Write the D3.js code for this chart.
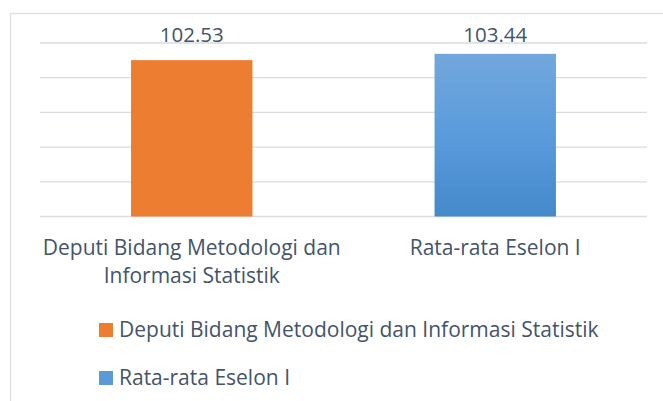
<!DOCTYPE html>
<html>
<head>
<meta charset="utf-8">
<script src="https://cdn.jsdelivr.net/npm/d3@7"></script>
<style>
  body { margin: 0; background: white; }
  text { font-family: "Open Sans", "Noto Sans", sans-serif; }
</style>
</head>
<body>
<div id="chart"></div>
<script>
const categories = ["Deputi Bidang Metodologi dan Informasi Statistik", "Rata-rata Eselon I"];
const categoryLines = [["Deputi Bidang Metodologi dan", "Informasi Statistik"], ["Rata-rata Eselon I"]];
const values = [102.53, 103.44];
const yTicks = [80, 85, 90, 95, 100, 105];

const wSvg = 663;
const hSvg = 401;
const plotLeft = 40, plotRight = 647, plotTop = 43, plotBottom = 216.5;
const textColor = "#44546A";

let svg = d3.select("#chart")
    .append("svg")
    .attr("width", wSvg)
    .attr("height", hSvg);

let defs = svg.append("defs");
let grad = defs.append("linearGradient")
    .attr("id", "blueGrad")
    .attr("x1", 0).attr("y1", 0).attr("x2", 0).attr("y2", 1);
grad.append("stop").attr("offset", "0%").attr("stop-color", "#72A7DC");
grad.append("stop").attr("offset", "50%").attr("stop-color", "#5A9BDC");
grad.append("stop").attr("offset", "100%").attr("stop-color", "#4489CA");

let colors = ["#ED7D31", "url(#blueGrad)"];
let legendColors = ["#ED7D31", "#5B9BD5"];

// chart frame
svg.append("path")
    .attr("d", `M10.5,${hSvg} V13.5 H${wSvg}`)
    .attr("fill", "none")
    .attr("stroke", "#DDE1E6")
    .attr("stroke-width", 1.3);

let y = d3.scaleLinear([80, 105], [plotBottom, plotTop]);
let x = d3.scaleBand(categories, [plotLeft, plotRight]).paddingInner(0.6).paddingOuter(0.3);

// gridlines
svg.append("g")
    .selectAll("line")
    .data(yTicks)
    .enter()
    .append("line")
    .attr("x1", plotLeft)
    .attr("x2", plotRight)
    .attr("y1", d => y(d))
    .attr("y2", d => y(d))
    .attr("stroke", "#D9DCE1")
    .attr("stroke-width", 1.3);

// bars
svg.append("g")
    .selectAll("rect")
    .data(values)
    .enter()
    .append("rect")
    .attr("x", (d, i) => x(categories[i]))
    .attr("width", x.bandwidth())
    .attr("y", d => y(d))
    .attr("height", d => y(80) - y(d))
    .attr("fill", (d, i) => colors[i]);

// value labels (sit just above the top gridline)
svg.append("g")
    .selectAll("text")
    .data(values)
    .enter()
    .append("text")
    .attr("x", (d, i) => x(categories[i]) + x.bandwidth() / 2)
    .attr("y", y(105) - 1)
    .attr("text-anchor", "middle")
    .attr("fill", textColor)
    .attr("font-size", 20.5)
    .text(d => d.toFixed(2));

// category labels
let cat = svg.append("g")
    .selectAll("text")
    .data(categoryLines)
    .enter()
    .append("text")
    .attr("text-anchor", "middle")
    .attr("fill", textColor)
    .attr("font-size", 21);
cat.selectAll("tspan")
    .data((d, i) => d.map(line => ({line, i})))
    .enter()
    .append("tspan")
    .attr("x", d => x(categories[d.i]) + x.bandwidth() / 2)
    .attr("y", (d, j) => 255 + j * 28)
    .text(d => d.line);

// legend
let legend = svg.append("g")
    .selectAll("g")
    .data(categories)
    .enter()
    .append("g")
    .attr("transform", (d, i) => `translate(99, ${337 + i * 48})`);
legend.append("rect")
    .attr("x", 0)
    .attr("y", -14)
    .attr("width", 14)
    .attr("height", 14)
    .attr("fill", (d, i) => legendColors[i]);
legend.append("text")
    .attr("x", 20)
    .attr("y", 0)
    .attr("fill", textColor)
    .attr("font-size", 21)
    .text(d => d);
</script>
</body>
</html>
